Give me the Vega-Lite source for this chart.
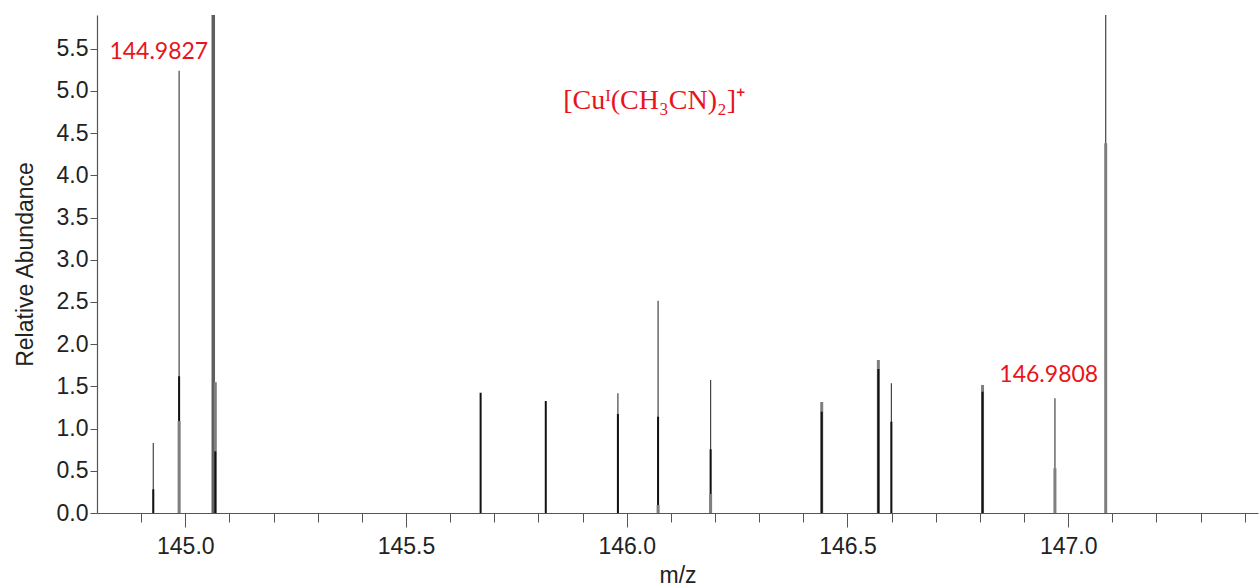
{
  "$schema": "https://vega.github.io/schema/vega-lite/v6.json",
  "autosize": "none",
  "width": 1161,
  "height": 498,
  "padding": {"left": 97, "top": 15, "right": 2, "bottom": 74},
  "background": "white",
  "config": {"view": {"stroke": null}},
  "datasets": {
    "peaks": [
      {"mz": 144.9275, "ab": 0.83, "series": "sim"},
      {"mz": 144.9275, "ab": 0.28, "series": "black"},
      {"mz": 144.986, "ab": 5.24, "series": "sim"},
      {"mz": 144.986, "ab": 1.62, "series": "black"},
      {"mz": 144.986, "ab": 1.09, "series": "light"},
      {"mz": 145.0634, "ab": 7.0, "series": "tall"},
      {"mz": 145.068, "ab": 1.55, "series": "light"},
      {"mz": 145.068, "ab": 0.73, "series": "black"},
      {"mz": 145.669, "ab": 1.425, "series": "black"},
      {"mz": 145.8166, "ab": 1.327, "series": "black"},
      {"mz": 145.98, "ab": 1.418, "series": "sim"},
      {"mz": 145.98, "ab": 1.173, "series": "black"},
      {"mz": 146.071, "ab": 2.515, "series": "sim"},
      {"mz": 146.071, "ab": 1.141, "series": "black"},
      {"mz": 146.071, "ab": 0.095, "series": "light"},
      {"mz": 146.19, "ab": 1.576, "series": "sim"},
      {"mz": 146.19, "ab": 0.755, "series": "black"},
      {"mz": 146.19, "ab": 0.225, "series": "light"},
      {"mz": 146.4417, "ab": 1.315, "series": "light"},
      {"mz": 146.4417, "ab": 1.2, "series": "black"},
      {"mz": 146.57, "ab": 1.813, "series": "light"},
      {"mz": 146.57, "ab": 1.706, "series": "black"},
      {"mz": 146.5995, "ab": 1.537, "series": "sim"},
      {"mz": 146.5995, "ab": 1.082, "series": "black"},
      {"mz": 146.806, "ab": 1.517, "series": "light"},
      {"mz": 146.806, "ab": 1.437, "series": "black"},
      {"mz": 146.97, "ab": 1.359, "series": "sim"},
      {"mz": 146.97, "ab": 0.53, "series": "light"},
      {"mz": 147.085, "ab": 7.0, "series": "sim"},
      {"mz": 147.085, "ab": 4.38, "series": "light"}
    ],
    "labels": [
      {"mz": 144.94, "ab": 5.46, "label": "144.9827"},
      {"mz": 146.956, "ab": 1.635, "label": "146.9808"}
    ],
    "formula": [
      {"mz": 146.062, "ab": 4.787, "label": "[Cuᴵ(CH₃CN)₂]⁺"}
    ]
  },
  "layer": [
    {
      "data": {"name": "peaks"},
      "mark": {"type": "rule", "clip": true},
      "encoding": {
        "x": {
          "field": "mz", "type": "quantitative",
          "scale": {"domain": [144.8, 147.43], "nice": false, "zero": false},
          "axis": {
            "title": "m/z",
            "values": [144.9, 145.0, 145.1, 145.2, 145.3, 145.4, 145.5, 145.6, 145.7, 145.8, 145.9, 146.0, 146.1, 146.2, 146.3, 146.4, 146.5, 146.6, 146.7, 146.8, 146.9, 147.0, 147.1, 147.2, 147.3, 147.4],
            "labelExpr": "round(datum.value * 10) % 5 == 0 ? format(datum.value, '.1f') : ''",
            "tickSize": {"condition": {"test": "round(datum.value * 10) % 5 == 0", "value": 14}, "value": 9},
            "tickColor": "#555",
            "tickWidth": 1,
            "domainColor": "#555",
            "domainWidth": 1.2,
            "grid": false,
            "labelFont": "Liberation Sans",
            "labelFontSize": 23,
            "labelColor": "#222",
            "labelPadding": 8,
            "labelFlush": false,
            "labelOverlap": false,
            "titleFont": "Liberation Sans",
            "titleFontSize": 23,
            "titleFontWeight": "normal",
            "titleColor": "#222",
            "titlePadding": 6
          }
        },
        "y": {
          "field": "ab", "type": "quantitative",
          "scale": {"domain": [0, 5.9], "nice": false},
          "axis": {
            "title": "Relative Abundance",
            "values": [0, 0.5, 1, 1.5, 2, 2.5, 3, 3.5, 4, 4.5, 5, 5.5],
            "format": ".1f",
            "tickSize": 7,
            "tickColor": "#555",
            "domainColor": "#555",
            "domainWidth": 1.2,
            "grid": false,
            "labelFont": "Liberation Sans",
            "labelFontSize": 23,
            "labelColor": "#222",
            "labelPadding": 2,
            "labelFlush": false,
            "titleFont": "Liberation Sans",
            "titleFontSize": 23,
            "titleFontWeight": "normal",
            "titleColor": "#222",
            "titlePadding": 19
          }
        },
        "y2": {"datum": 0},
        "color": {
          "field": "series", "type": "nominal",
          "scale": {"domain": ["sim", "black", "light", "tall"], "range": ["#444444", "#111111", "#7f7f7f", "#5e5e5e"]},
          "legend": null
        },
        "strokeWidth": {
          "field": "series", "type": "nominal",
          "scale": {"type": "ordinal", "domain": ["sim", "black", "light", "tall"], "range": [1.2, 2, 3, 3.5]},
          "legend": null
        }
      }
    },
    {
      "data": {"name": "labels"},
      "mark": {"type": "text", "font": "Lato", "fontSize": 23, "color": "#e8141b", "align": "center", "baseline": "middle"},
      "encoding": {
        "x": {"field": "mz", "type": "quantitative"},
        "y": {"field": "ab", "type": "quantitative"},
        "text": {"field": "label"}
      }
    },
    {
      "data": {"name": "formula"},
      "mark": {"type": "text", "font": "Liberation Serif", "fontSize": 28, "color": "#e8141b", "align": "center", "baseline": "alphabetic"},
      "encoding": {
        "x": {"field": "mz", "type": "quantitative"},
        "y": {"field": "ab", "type": "quantitative"},
        "text": {"field": "label"}
      }
    }
  ]
}
